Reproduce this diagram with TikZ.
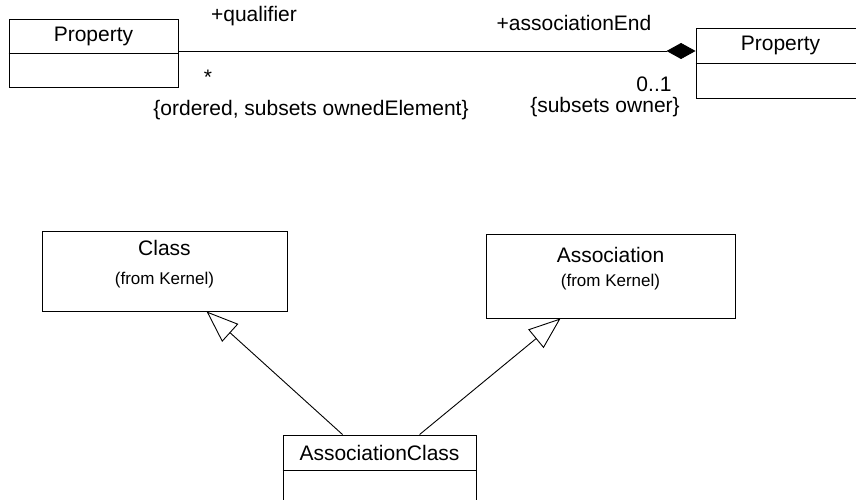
\documentclass[tikz,border=0pt]{standalone}
\usepackage{fontspec}
\setmainfont{Liberation Sans}
\usetikzlibrary{arrows.meta}
\begin{document}
\begin{tikzpicture}[x=1pt, y=-1pt, line width=0.9pt,
  umlbox/.style={draw, rectangle, inner sep=0pt},
  lbl/.style={inner sep=0pt, font=\fontsize{21}{24}\selectfont},
  small/.style={inner sep=0pt, font=\fontsize{17}{20}\selectfont},
  gen/.style={-{Triangle[open, length=32pt, width=24pt]}},
  comp/.style={-{Diamond[length=29pt, width=16pt]}}]
\useasboundingbox (0,0) rectangle (856,500);
\clip (0,0) rectangle (856,500);
% top association
\node[umlbox, minimum width=169pt, minimum height=68pt] (lprop) at (93.5,53){};
\node[lbl] (lpropname) at (93.5,36){Property};
\draw[](lprop.west) -- (lprop.east);
\node[umlbox, minimum width=169pt, minimum height=70pt] (rprop) at (780.5,63){};
\node[lbl] (rpropname) at (780.5,45){Property};
\draw[](rprop.west) -- (rprop.east);
\coordinate (assocy) at (0,51);
\draw[comp](lprop.east |- assocy) -- (rprop.west |- assocy);
\node[lbl] (qual) at (254,16){+qualifier};
\node[lbl] (qualmult) at (208,77){*};
\node[lbl] (qualcons) at (311,110){\{ordered, subsets ownedElement\}};
\node[lbl] (aend) at (574,23){+associationEnd};
\node[lbl] (aendmult) at (654,84){0..1};
\node[lbl] (aendcons) at (605,107){\{subsets owner\}};
% generalization
\node[umlbox, minimum width=245pt, minimum height=80pt] (cls) at (164.5,271){};
\node[lbl] (clsname) at (164.5,248){Class};
\node[small] (clsfrom) at (164.5,280){(from Kernel)};
\node[umlbox, minimum width=249pt, minimum height=84pt] (assoc) at (610.5,276){};
\node[lbl] (assocname) at (610.5,255){Association};
\node[small] (assocfrom) at (610.5,282){(from Kernel)};
\node[umlbox, minimum width=193pt, minimum height=70pt] (aclass) at (379.5,470){};
\node[lbl] (aclassname) at (379.5,453){AssociationClass};
\draw[](aclass.west) -- (aclass.east);
\draw[gen]([xshift=60pt]aclass.north west) -- ([xshift=165pt]cls.south west);
\draw[gen]([xshift=137pt]aclass.north west) -- ([xshift=75pt]assoc.south west);
\end{tikzpicture}
\end{document}
